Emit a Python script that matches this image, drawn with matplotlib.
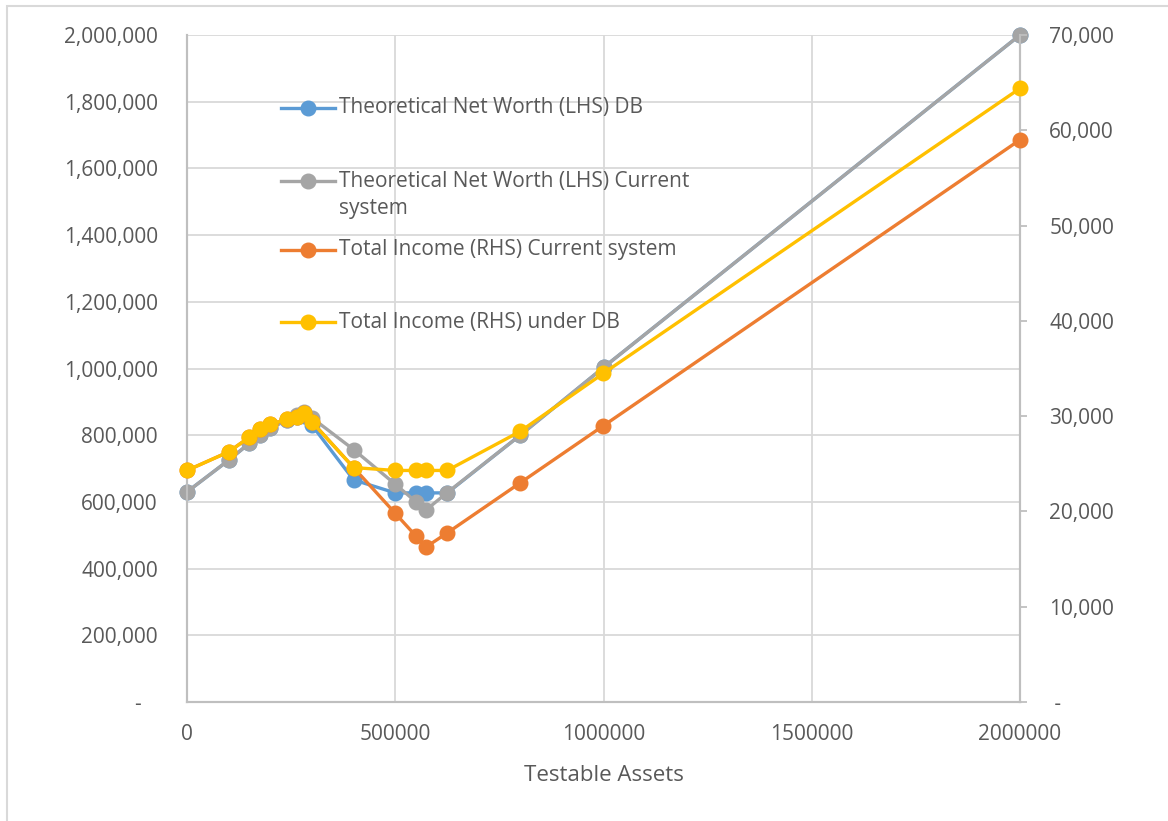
import matplotlib
matplotlib.use("Agg")
import matplotlib.pyplot as plt
from matplotlib.patches import Rectangle
from matplotlib.lines import Line2D
from matplotlib.ticker import FuncFormatter, MultipleLocator

plt.rcParams["font.family"] = ["Open Sans", "DejaVu Sans"]

# testable assets (x) for every scenario
assets = [0, 100000, 150000, 175000, 200000, 240000, 265000, 280000, 300000,
          400000, 500000, 550000, 575000, 625000, 800000, 1000000, 2000000]

# left axis: theoretical net worth
nw_db = [630000, 725000, 776000, 800000, 822000, 845000, 855000, 858000, 830000,
         666000, 627000, 627000, 627000, 627000, 800000, 1003000, 2000000]
nw_current = [630000, 725000, 776000, 800000, 822000, 845000, 860000, 870000, 852000,
              757000, 653000, 600000, 577000, 628000, 800000, 1003000, 2000000]

# right axis: total income
inc_current = [24300, 26250, 27800, 28600, 29150, 29650, 29900, 30300, 29400,
               24600, 19800, 17400, 16300, 17750, 23000, 29000, 59000]
inc_db = [24300, 26250, 27800, 28600, 29150, 29650, 29900, 30300, 29400,
          24600, 24300, 24300, 24300, 24300, 28400, 34500, 64400]

labels = ["Theoretical Net Worth (LHS) DB",
          "Theoretical Net Worth (LHS) Current\nsystem",
          "Total Income (RHS) Current system",
          "Total Income (RHS) under DB"]
colors = ["#5B9BD5", "#A5A5A5", "#ED7D31", "#FFC000"]

TXT = "#595959"
AXC = "#BFBFBF"
GRID = "#D9D9D9"

fig = plt.figure(figsize=(11.68, 8.21), dpi=100)
ax = fig.add_axes([187/1168, 1-702/821, 833/1168, 667/821])
ax2 = ax.twinx()

style = dict(lw=2.4, marker="o", ms=10.5, solid_capstyle="round", clip_on=False)
ax.plot(assets, nw_db, color=colors[0], zorder=3, **style)
ax.plot(assets, nw_current, color=colors[1], zorder=4, **style)
ax2.plot(assets, inc_current, color=colors[2], zorder=3, **style)
ax2.plot(assets, inc_db, color=colors[3], zorder=4, **style)

ax.set_xlim(0, 2000000)
ax.set_ylim(0, 2000000)
ax2.set_ylim(0, 70000)
ax.set_xticks([0, 500000, 1000000, 1500000, 2000000])
ax.set_xticklabels(["0", "500000", "1000000", "1500000", "2000000"])
ax.yaxis.set_major_locator(MultipleLocator(200000))
ax2.yaxis.set_major_locator(MultipleLocator(10000))

ax.yaxis.set_major_formatter(FuncFormatter(lambda v, p: "-   " if v == 0 else f"{v:,.0f}"))
ax2.yaxis.set_major_formatter(FuncFormatter(lambda v, p: " -" if v == 0 else f"{v:,.0f}"))

ax.grid(True, color=GRID, lw=1.3)
ax.set_axisbelow(True)
for a in (ax, ax2):
    a.spines["top"].set_visible(False)
    for s in ("left", "right", "bottom"):
        a.spines[s].set_color(AXC)
        a.spines[s].set_linewidth(1.5)
ax.tick_params(axis="y", length=0, pad=21, labelsize=15, labelcolor=TXT)
ax.tick_params(axis="x", length=0, pad=16, labelsize=15, labelcolor=TXT)
ax2.tick_params(axis="y", length=5, width=1.3, color=AXC, pad=16, labelsize=15, labelcolor=TXT)
ax.set_xlabel("Testable Assets", fontsize=16, color=TXT, labelpad=14)

# legend drawn inside the plot area
leg_y = [0.8906, 0.7811, 0.6777, 0.5697]
for lab, c, y in zip(labels, colors, leg_y):
    ln = Line2D([0.1128, 0.1453, 0.1777], [y, y, y], transform=ax2.transAxes, color=c,
                lw=2.4, marker="o", ms=10.5, markevery=[1], zorder=6)
    ax2.add_line(ln)
    ty = y - 0.021 if "\n" in lab else y
    ax2.text(0.1825, ty, lab, transform=ax2.transAxes, fontsize=15, color=TXT,
             va="center", ha="left", linespacing=1.35)

fig.add_artist(Rectangle((7/1168, -0.1), 1.5, 1.1 - 6/821, transform=fig.transFigure,
                         fill=False, ec=GRID, lw=1.5))

fig.savefig("out.png", dpi=100)
